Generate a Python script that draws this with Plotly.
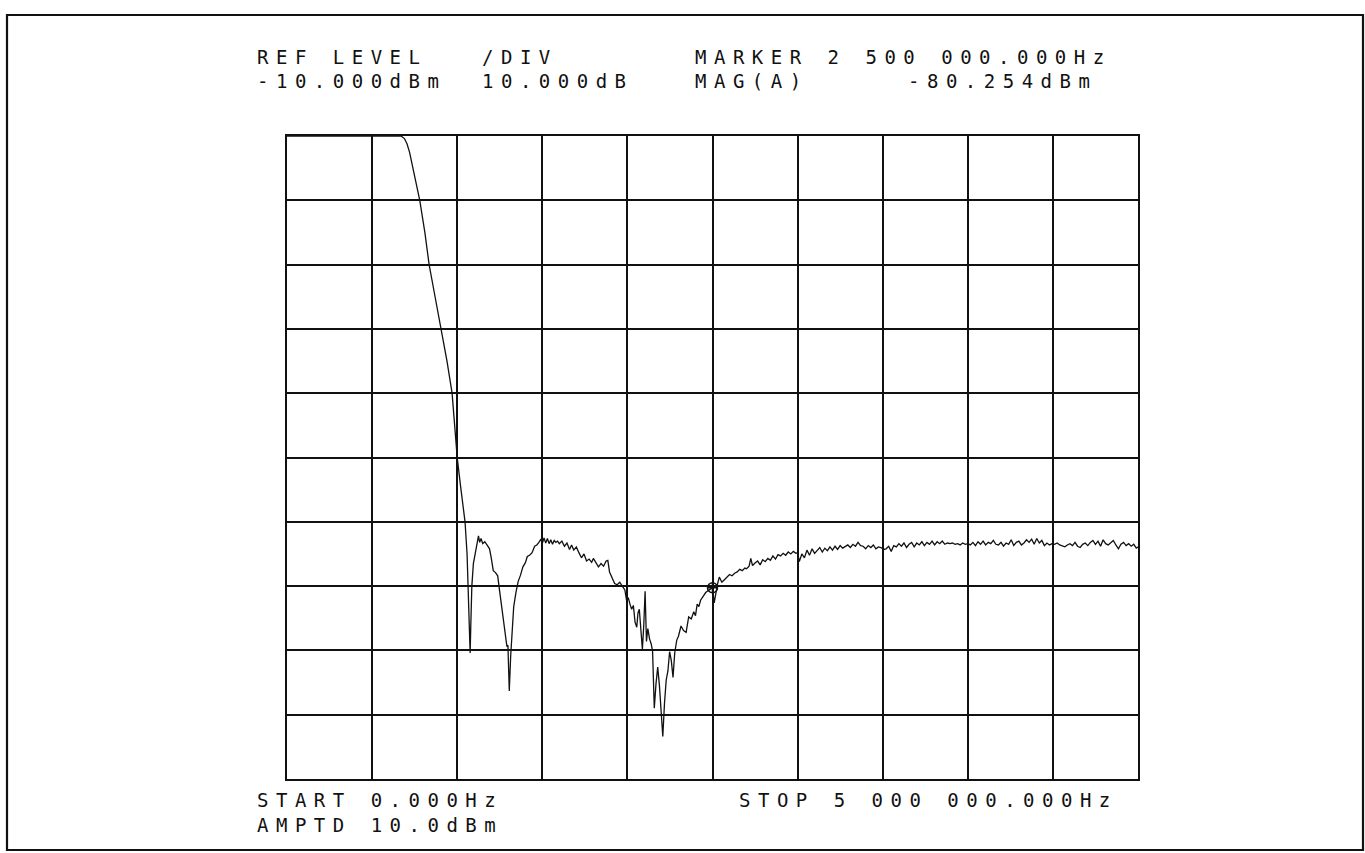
import plotly.graph_objects as go

# ---------------- data ----------------
freq_mhz = [
    0.00, 0.30, 0.60, 0.67, 0.69, 0.705, 0.72, 0.74, 0.76, 0.78, 0.81, 0.835, 0.87, 0.905, 0.94, 0.97,
    0.99, 1.00, 1.02, 1.046, 1.058, 1.066, 1.072, 1.076, 1.08, 1.086, 1.095, 1.105, 1.115, 1.125, 1.132,
    1.14, 1.15, 1.162, 1.175, 1.19, 1.20, 1.212, 1.225, 1.238, 1.248, 1.258, 1.27, 1.282, 1.292, 1.298,
    1.306, 1.314, 1.322, 1.332, 1.345, 1.358, 1.372, 1.386, 1.40, 1.412, 1.425, 1.44, 1.455, 1.468,
    1.48, 1.492, 1.50, 1.51, 1.52, 1.53, 1.54, 1.55, 1.56, 1.57, 1.58, 1.59, 1.60, 1.615, 1.63, 1.645,
    1.66, 1.672, 1.685, 1.70, 1.715, 1.73, 1.745, 1.76, 1.775, 1.79, 1.80, 1.815, 1.83, 1.845, 1.86,
    1.875, 1.885, 1.895, 1.91, 1.925, 1.94, 1.955, 1.97, 1.985, 1.995, 2.005, 2.015, 2.025, 2.035,
    2.045, 2.055, 2.062, 2.07, 2.08, 2.088, 2.096, 2.104, 2.112, 2.12, 2.13, 2.14, 2.148, 2.158, 2.168,
    2.178, 2.188, 2.198, 2.208, 2.218, 2.228, 2.238, 2.248, 2.258, 2.268, 2.278, 2.29, 2.30, 2.315,
    2.33, 2.345, 2.36, 2.375, 2.39, 2.40, 2.41, 2.42, 2.43, 2.445, 2.46, 2.475, 2.49, 2.50, 2.51, 2.52,
    2.53, 2.54, 2.555, 2.57, 2.585, 2.60, 2.615, 2.63, 2.645, 2.66, 2.675, 2.69, 2.70, 2.715, 2.725,
    2.735, 2.75, 2.765, 2.78, 2.795, 2.81, 2.825, 2.84, 2.855, 2.87, 2.885, 2.90, 2.915, 2.93, 2.945,
    2.96, 2.975, 2.99, 3.00, 3.01, 3.025, 3.04, 3.055, 3.07, 3.085, 3.10, 3.115, 3.13, 3.145, 3.16,
    3.175, 3.19, 3.205, 3.22, 3.235, 3.25, 3.265, 3.28, 3.295, 3.31, 3.325, 3.34, 3.355, 3.37,
    3.385, 3.40, 3.415, 3.43, 3.445, 3.46, 3.475, 3.49, 3.505, 3.52, 3.535, 3.55, 3.565, 3.58, 3.595,
    3.61, 3.625, 3.64, 3.655, 3.67, 3.685, 3.70, 3.715, 3.73, 3.745, 3.76, 3.775, 3.79, 3.805, 3.82,
    3.835, 3.85, 3.865, 3.88, 3.895, 3.91, 3.925, 3.94, 3.955, 3.97, 3.985, 4.00, 4.015, 4.03, 4.045,
    4.06, 4.075, 4.09, 4.105, 4.12, 4.135, 4.15, 4.165, 4.18, 4.195, 4.21, 4.225, 4.24, 4.255, 4.27,
    4.285, 4.30, 4.315, 4.33, 4.345, 4.36, 4.375, 4.39, 4.405, 4.42, 4.435, 4.45, 4.465, 4.48, 4.495,
    4.51, 4.525, 4.54, 4.555, 4.57, 4.585, 4.60, 4.615, 4.63, 4.645, 4.66, 4.675, 4.69, 4.705, 4.72,
    4.735, 4.75, 4.765, 4.78, 4.795, 4.81, 4.825, 4.84, 4.855, 4.87, 4.885, 4.90, 4.915, 4.93, 4.945,
    4.96, 4.975, 4.99, 5.00,
]

level_dbm = [
    -10, -10, -10, -10, -10.4, -11.2, -12.5, -15, -17.5, -20, -25, -30, -35, -40, -45, -50,
    -56, -60, -64.5, -70, -75, -81, -86, -90.4, -86, -80, -76.5, -75, -73.8, -72.2, -73.2,
    -72.6, -73.4, -73.1, -73.6, -74.2, -75.6, -77.6, -77.9, -78.4, -80.5, -82.5, -84.5, -87.5, -89.4, -89.2,
    -96.3, -91, -86.5, -83.2, -81, -79.3, -78.3, -77, -76.4, -75.4, -75.2, -74.8, -73.8, -73.6,
    -73.2, -72.7, -73.4, -72.5, -73.3, -72.6, -73.4, -72.8, -73.5, -72.9, -73.2, -73.0, -73.4, -73.0, -73.8, -73.3,
    -74.3, -73.6, -74.4, -73.9, -74.8, -75.6, -75.0, -76.1, -75.8, -76.3, -75.7, -76.4, -77.0, -76.5, -76.9,
    -76.1, -76.0, -77.8, -78.8, -79.6, -79.8, -79.4, -80.0, -80.6, -82.2, -81.8, -82.8, -83.6, -83.0,
    -85.6, -86.4, -84.2, -83.6, -86.4, -89.8, -86.2, -80.8, -88.6, -86.6, -88.2, -89.0, -90.2, -99.0, -95.2,
    -92.6, -95.4, -99.6, -103.4, -98.2, -94.6, -93.2, -90.2, -91.6, -94.2, -90.4, -88.4, -87.8, -86.2,
    -86.9, -87.2, -84.8, -85.1, -84.0, -84.6, -82.8, -83.2, -82.2, -81.6, -81.0, -80.7, -80.4, -80.254, -82.6, -80.8,
    -79.6, -78.6, -79.4, -79.0, -78.6, -78.2, -78.4, -78.0, -77.8, -77.4, -77.6, -77.2, -77.3, -76.9, -75.7,
    -76.8, -76.4, -76.1, -76.7, -75.9, -76.2, -75.7, -76.0, -75.3, -75.8, -75.1, -75.3, -74.9, -75.2, -74.7,
    -75.0, -74.6, -74.9, -74.8, -76.2, -75.0, -75.6, -74.4, -75.2, -74.2, -74.9, -74.4, -74.0, -74.7, -74.1,
    -74.5, -73.9, -74.4, -73.8, -74.3, -73.7, -74.1, -73.8, -73.6, -74.0, -73.5, -73.8, -73.2, -73.7,
    -73.8, -74.2, -73.7, -74.0, -73.6, -74.2, -73.9, -74.0, -74.3, -74.2, -73.8, -74.6, -73.7, -73.9, -73.4,
    -73.8, -73.3, -74.0, -73.5, -73.2, -73.9, -73.3, -73.6, -73.1, -73.7, -73.2, -73.5, -73.0, -73.6, -73.1,
    -73.4, -73.0, -73.5, -73.3, -73.4, -73.3, -73.5, -73.4, -73.6, -73.3, -73.5, -73.4, -73.6, -73.2, -73.7,
    -73.1, -73.5, -73.0, -73.6, -73.2, -73.4, -72.9, -73.5, -73.6, -73.2, -73.8, -73.3, -73.5, -72.8, -73.7,
    -73.2, -73.0, -73.6, -73.3, -72.8, -73.2, -72.7, -73.5, -72.6, -73.3, -72.9, -73.7, -73.3, -73.6, -73.4,
    -73.5, -73.3, -73.6, -73.8, -73.9, -73.6, -73.4, -73.7, -73.2, -73.8, -74.0, -73.5, -73.3, -73.7, -73.2,
    -72.9, -73.5, -73.0, -73.8, -72.8, -73.4, -73.6, -73.2, -72.9, -73.6, -74.2, -73.5, -73.2, -73.7, -73.4,
    -73.8, -73.5, -74.1, -73.9,
]

marker_freq_mhz = [2.5]
marker_level_dbm = [-80.254]

header_row1 = ["REF LEVEL", "/DIV", "MARKER 2 500 000.000Hz"]
header_row2 = ["-10.000dBm", "10.000dB", "MAG(A)", "-80.254dBm"]
footer_row1 = ["START 0.000Hz", "STOP 5 000 000.000Hz"]
footer_row2 = ["AMPTD 10.0dBm"]

# ---------------- layout geometry (pixels) ----------------
W, H = 1365, 853
PL, PR, PT, PB = 287, 1138, 136, 779  # plot area edges


def px_x(x):
    return (x - PL) / (PR - PL)


def px_y(y):
    return (PB - y) / (PB - PT)


INK = "#111111"
FONT = dict(family="DejaVu Sans Mono", size=19, color=INK)


def spaced(t):
    return '<span style="letter-spacing:7.5px">' + t + "</span>"


fig = go.Figure()
fig.add_trace(go.Scatter(
    x=freq_mhz, y=level_dbm, mode="lines",
    line=dict(color=INK, width=1.3), hoverinfo="skip", showlegend=False,
))
fig.add_trace(go.Scatter(
    x=marker_freq_mhz, y=marker_level_dbm, mode="markers",
    marker=dict(symbol="circle-cross-open", size=10, color=INK, line=dict(width=1.5, color=INK)),
    hoverinfo="skip", showlegend=False,
))

annotations = []
text_pos = [
    (header_row1[0], 255, 57), (header_row1[1], 480, 57), (header_row1[2], 693, 57),
    (header_row2[0], 255, 81), (header_row2[1], 480, 81), (header_row2[2], 693, 81),
    (header_row2[3], 906, 81),
    (footer_row1[0], 255, 800), (footer_row1[1], 737, 800),
    (footer_row2[0], 255, 825),
]
for t, x, y in text_pos:
    annotations.append(dict(
        text=spaced(t), x=px_x(x), y=px_y(y), xref="paper", yref="paper",
        xanchor="left", yanchor="middle", showarrow=False, font=FONT,
    ))

shapes = [dict(
    type="rect", xref="paper", yref="paper",
    x0=px_x(7), x1=px_x(1363), y0=px_y(850), y1=px_y(15),
    line=dict(color=INK, width=2.2), fillcolor="rgba(0,0,0,0)", layer="above",
)]

fig.update_layout(
    width=W, height=H, autosize=False,
    margin=dict(l=PL, r=W - PR, t=PT, b=H - PB, pad=0),
    paper_bgcolor="white", plot_bgcolor="white",
    annotations=annotations, shapes=shapes,
    showlegend=False, hovermode=False,
)
fig.update_xaxes(
    range=[0, 5], dtick=0.5, tick0=0, showgrid=True, gridcolor=INK, gridwidth=1.6,
    showline=True, linecolor=INK, linewidth=2, mirror=True, zeroline=False,
    showticklabels=False, ticks="",
)
fig.update_yaxes(
    range=[-110, -10], dtick=10, tick0=-110, showgrid=True, gridcolor=INK, gridwidth=1.6,
    showline=True, linecolor=INK, linewidth=2, mirror=True, zeroline=False,
    showticklabels=False, ticks="",
)

fig.write_html(
    "out.html",
    config={"displayModeBar": False},
    post_script="document.body.style.margin='0px';document.body.style.overflow='hidden';",
)
